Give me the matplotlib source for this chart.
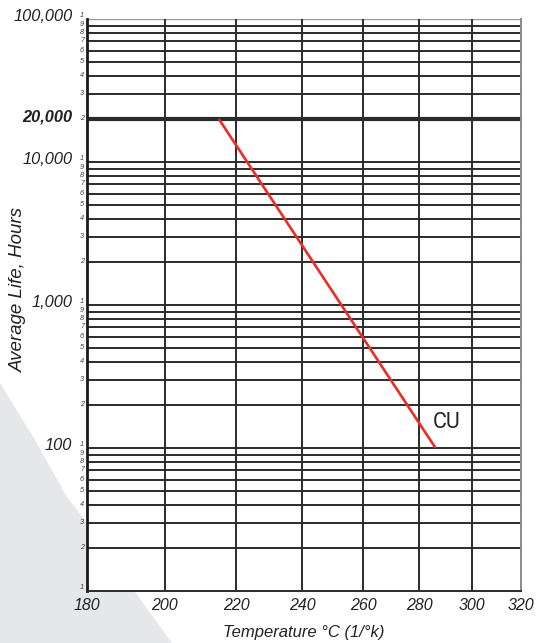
import numpy as np
import matplotlib
matplotlib.use("Agg")
import matplotlib.pyplot as plt
from matplotlib.patches import Polygon
from matplotlib.transforms import blended_transform_factory

# ---- data ----
temps_c = [215, 286]          # temperature, deg C
life_hours = [20000, 100]     # average life, hours
series_label = "CU"

x_ticks = [180, 200, 220, 240, 260, 280, 300, 320]
major_vals = [100000, 20000, 10000, 1000, 100]
major_labels = ["100,000", "20,000", "10,000", "1,000", "100"]
decades = [10, 100, 1000, 10000]
minor_digits = [1, 2, 3, 4, 5, 6, 7, 8, 9]

FAM = ["Liberation Sans", "DejaVu Sans"]
plt.rcParams["font.family"] = FAM

W, H = 536, 643
fig = plt.figure(figsize=(W / 100, H / 100), dpi=100)
fig.patch.set_facecolor("white")

# grey decorative shape lower-left (figure pixels -> fraction)
shape_px = [(0, 383), (35, 440), (67, 497), (95, 533), (130, 585), (172, 643), (0, 643)]
shape = Polygon([(x / W, 1 - y / H) for x, y in shape_px], closed=True,
                transform=fig.transFigure, facecolor="#e6e7e8", edgecolor="none", zorder=-5)
fig.add_artist(shape)

L, R, T, B = 87, 521, 19, 591
ax = fig.add_axes([L / W, 1 - B / H, (R - L) / W, (B - T) / H])
ax.set_facecolor("white")

fwd = lambda t: -1.0 / (np.asarray(t, dtype=float) + 273.15)
inv = lambda u: -1.0 / np.asarray(u, dtype=float) - 273.15
ax.set_xscale("function", functions=(fwd, inv))
ax.set_yscale("log")
ax.set_xlim(180, 320)
ax.set_ylim(10, 100000)

dark = "#2b2b2b"
# horizontal grid lines
for d in decades:
    for k in minor_digits:
        v = k * d
        if v == 10:
            continue
        lw = 3.0 if v == 20000 else 1.4
        ax.axhline(v, color=dark, lw=lw, zorder=2)
ax.axhline(100000, color="#9a9a9a", lw=1.0, zorder=2)

# vertical grid lines
for t in x_ticks[1:-1]:
    ax.axvline(t, color=dark, lw=1.4, zorder=2)

ax.spines["top"].set_visible(False)
ax.spines["left"].set_color("#1a1a1a")
ax.spines["left"].set_linewidth(2.0)
ax.spines["bottom"].set_color(dark)
ax.spines["bottom"].set_linewidth(1.4)
ax.spines["right"].set_color("#8a8a8a")
ax.spines["right"].set_linewidth(1.4)

# data line
ax.plot(temps_c, life_hours, color="#ee2b24", lw=1.9, zorder=4, solid_capstyle="butt")
ax.text(284.8, 150, series_label, family=["Liberation Sans Narrow", "Roboto", "DejaVu Sans"],
        fontsize=15.5, color="#222222", ha="left", va="center", zorder=5)

# x ticks
ax.set_xticks(x_ticks)
ax.set_xticklabels([str(t) for t in x_ticks], fontsize=11.5, style="italic", color="#222222")
ax.xaxis.set_minor_locator(matplotlib.ticker.NullLocator())
ax.tick_params(axis="x", length=0, pad=5)
ax.set_yticks([])
ax.yaxis.set_minor_locator(matplotlib.ticker.NullLocator())

# y labels
trans = blended_transform_factory(ax.transAxes, ax.transData)
for v, lab in zip(major_vals, major_labels):
    ax.annotate(lab, xy=(0, v), xycoords=trans, xytext=(-10.5, 1.5), textcoords="offset points",
                ha="right", va="center", fontsize=11.8, style="italic",
                fontweight="bold" if v == 20000 else "normal", color="#222222")
minor_vals = [(k * d, k) for d in decades for k in minor_digits] + [(100000, 1)]
for v, k in minor_vals:
    dy = 2.5 if k == 1 else 0.5
    ax.annotate(str(k), xy=(0, v), xycoords=trans, xytext=(-3.6, dy), textcoords="offset points",
                ha="center", va="center", fontsize=5.3, style="italic", color="#444444")

fig.text(304 / W, 1 - 632 / H, "Temperature \u00b0C (1/\u00b0k)", ha="center", va="center",
         fontsize=12, style="italic", color="#222222")
fig.text(18 / W, 1 - 289 / H, "Average Life, Hours", ha="center", va="center", rotation=90,
         fontsize=13.5, style="italic", color="#222222")

fig.savefig("out.png", dpi=100)
